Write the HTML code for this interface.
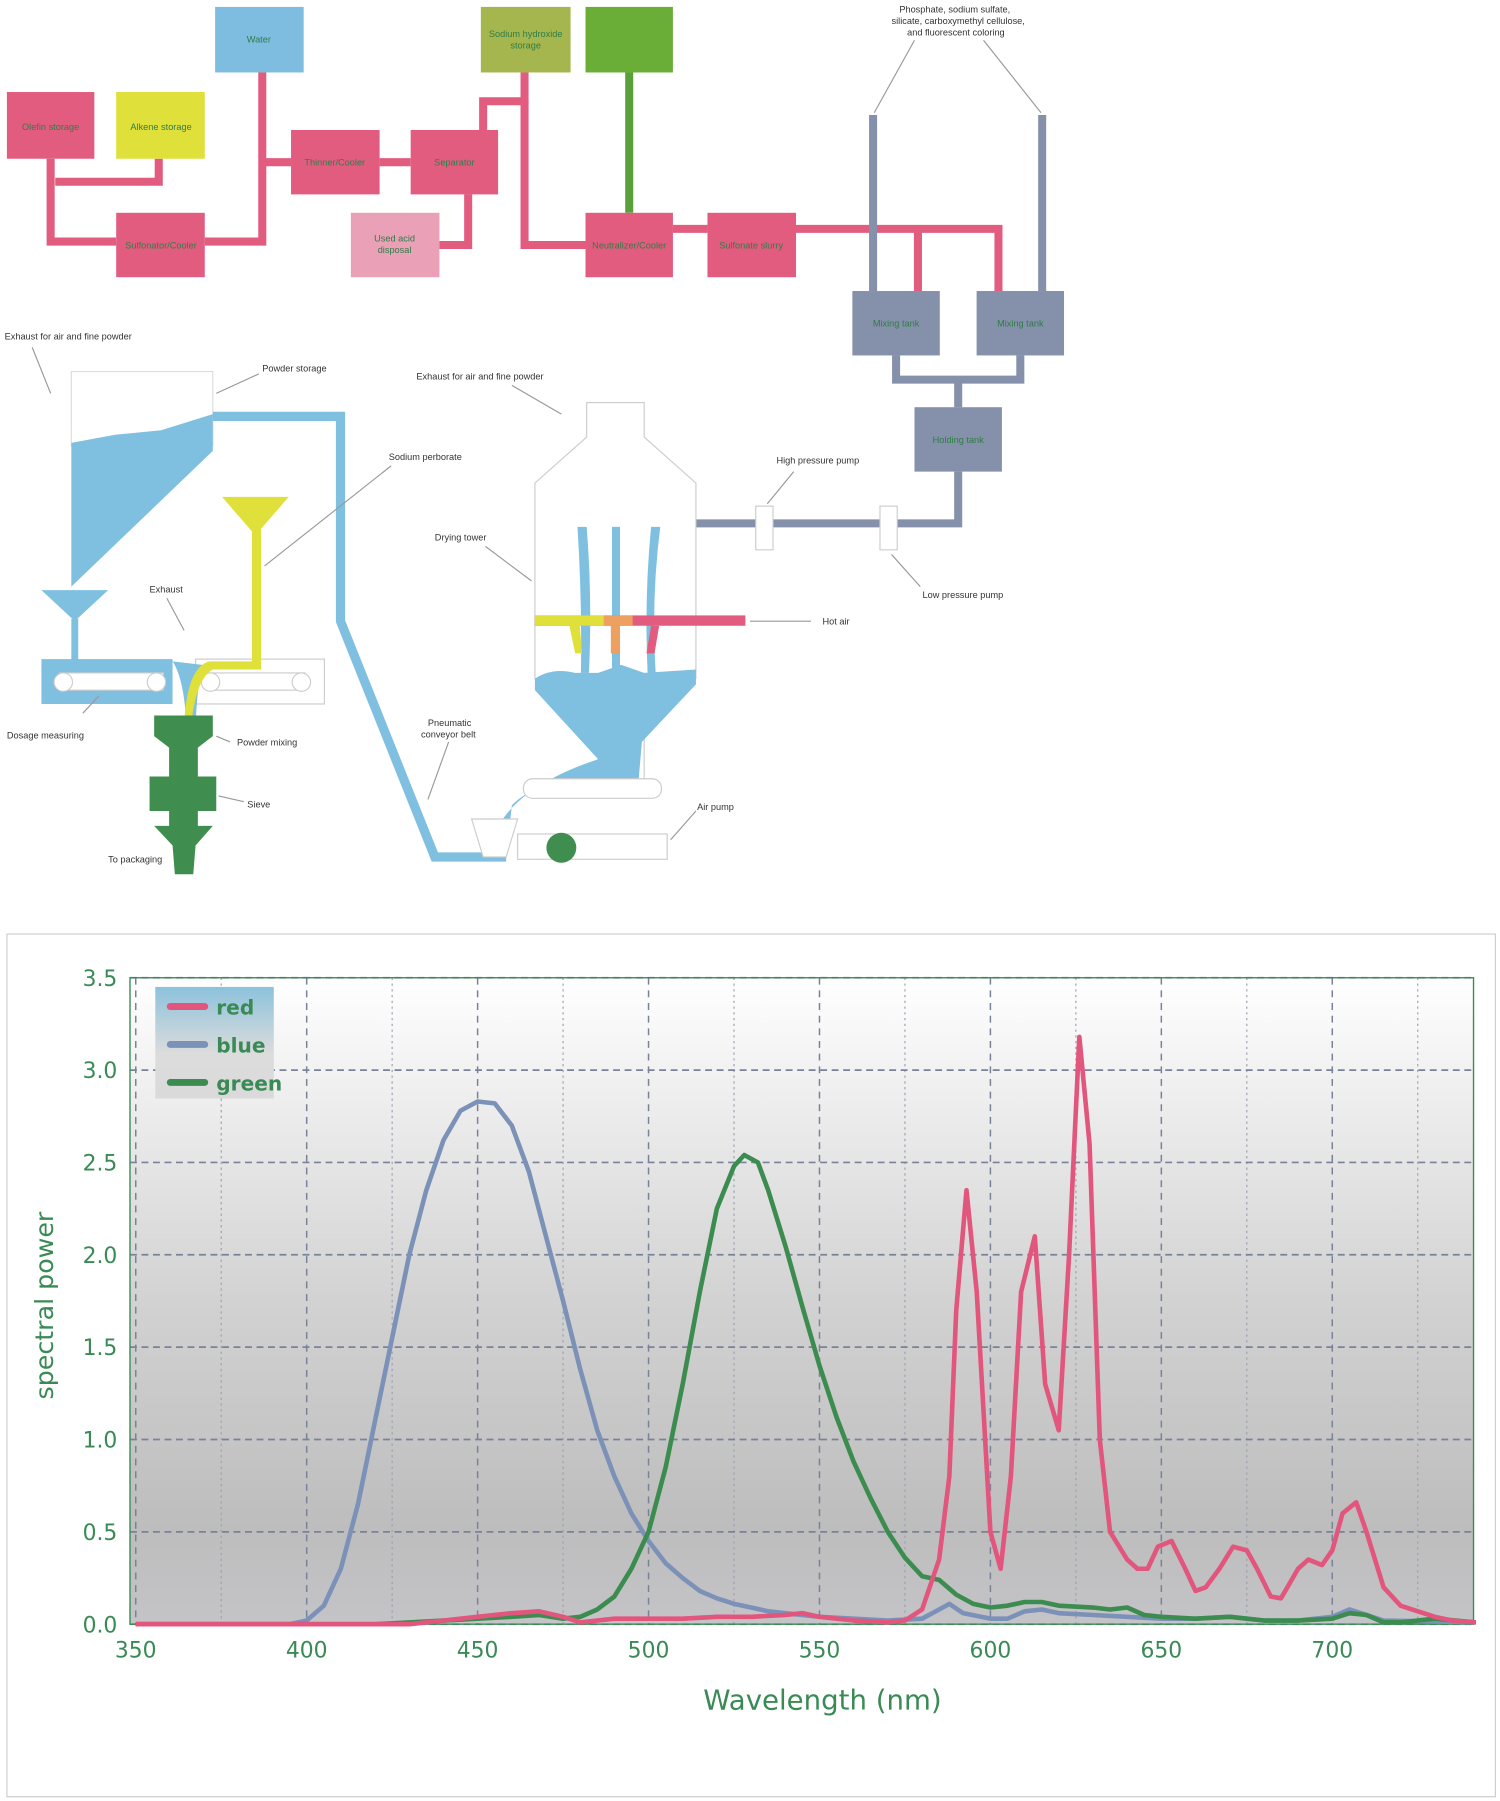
<!DOCTYPE html>
<html><head><meta charset="utf-8"><style>
html,body{margin:0;padding:0;background:#fff;}
svg{display:block;font-family:"DejaVu Sans","Liberation Sans",sans-serif;}
.lbl{font-family:"Liberation Sans",sans-serif;font-size:8px;fill:#333;}
.blbl{font-family:"Liberation Sans",sans-serif;font-size:8px;fill:#2e7d46;text-anchor:middle;}
</style></head><body>
<svg id="root" width="1500" height="1801" viewBox="0 0 1304 1565.7" xmlns="http://www.w3.org/2000/svg">
<defs>
<linearGradient id="bg" x1="0" y1="0" x2="0" y2="1">
<stop offset="0" stop-color="#ffffff"/><stop offset="0.12" stop-color="#f4f4f4"/><stop offset="0.5" stop-color="#d2d2d2"/><stop offset="0.85" stop-color="#bdbdbd"/><stop offset="1" stop-color="#c4c4c8"/>
</linearGradient>
<linearGradient id="lg" x1="0" y1="0" x2="0" y2="1">
<stop offset="0" stop-color="#8cc2dc"/><stop offset="0.6" stop-color="#dcdcdc"/><stop offset="1" stop-color="#dadada"/>
</linearGradient>
</defs>

<g id="diagram">
<g fill="none" stroke="#e25c80" stroke-width="7">
<polyline points="44,138 44,210 101,210"/>
<polyline points="48,158 138,158 138,138"/>
<polyline points="178,210 228,210 228,63"/>
<polyline points="228,141 253,141"/>
<polyline points="330,141 357,141"/>
<polyline points="420,113 420,88 456,88 456,63"/>
<polyline points="456,88 456,213 509,213"/>
<polyline points="407,169 407,213 382,213"/>
<polyline points="585,199 615,199"/>
<polyline points="692,199 868,199 868,253"/>
<polyline points="798,199 798,253"/>
</g>
<line x1="547" y1="63" x2="547" y2="185" stroke="#5aa03a" stroke-width="7"/>
<g fill="none" stroke="#8590aa" stroke-width="7">
<polyline points="759,100 759,253"/>
<polyline points="906,100 906,253"/>
<polyline points="779,309 779,330 887,330 887,309"/>
<polyline points="833,330 833,354"/>
<polyline points="833,410 833,455 465,455"/>
</g>
<g fill="none" stroke="#999" stroke-width="1">
<line x1="795" y1="35" x2="760" y2="98"/><line x1="855" y1="35" x2="905" y2="98"/>
</g>
<text class="lbl" x="830" y="11" text-anchor="middle">Phosphate, sodium sulfate,</text>
<text class="lbl" x="833" y="21" text-anchor="middle">silicate, carboxymethyl cellulose,</text>
<text class="lbl" x="831" y="31" text-anchor="middle">and fluorescent coloring</text>
<rect x="6" y="80" width="76" height="58" fill="#e25c80"/>
<text class="blbl" x="44" y="113">Olefin storage</text>
<rect x="101" y="80" width="77" height="58" fill="#dfe03a"/>
<text class="blbl" x="140" y="113">Alkene storage</text>
<rect x="187" y="6" width="77" height="57" fill="#7fbde0"/>
<text class="blbl" x="225" y="37">Water</text>
<rect x="418" y="6" width="78" height="57" fill="#a6b64e"/>
<text class="blbl" x="457" y="32">Sodium hydroxide</text><text class="blbl" x="457" y="42">storage</text>
<rect x="509" y="6" width="76" height="57" fill="#6aae38"/>
<rect x="101" y="185" width="77" height="56" fill="#e25c80"/>
<text class="blbl" x="140" y="216">Sulfonator/Cooler</text>
<rect x="253" y="113" width="77" height="56" fill="#e25c80"/>
<text class="blbl" x="291" y="144">Thinner/Cooler</text>
<rect x="357" y="113" width="76" height="56" fill="#e25c80"/>
<text class="blbl" x="395" y="144">Separator</text>
<rect x="305" y="185" width="77" height="56" fill="#eaa0b6"/>
<text class="blbl" x="343" y="210">Used acid</text><text class="blbl" x="343" y="220">disposal</text>
<rect x="509" y="185" width="76" height="56" fill="#e25c80"/>
<text class="blbl" x="547" y="216">Neutralizer/Cooler</text>
<rect x="615" y="185" width="77" height="56" fill="#e25c80"/>
<text class="blbl" x="653" y="216">Sulfonate slurry</text>
<rect x="741" y="253" width="76" height="56" fill="#8590aa"/>
<text class="blbl" x="779" y="284">Mixing tank</text>
<rect x="849" y="253" width="76" height="56" fill="#8590aa"/>
<text class="blbl" x="887" y="284">Mixing tank</text>
<rect x="795" y="354" width="76" height="56" fill="#8590aa"/>
<text class="blbl" x="833" y="385">Holding tank</text>
<rect x="657" y="440" width="15" height="38" fill="#fff" stroke="#ccc"/>
<rect x="765" y="440" width="15" height="38" fill="#fff" stroke="#ccc"/>
<text class="lbl" x="675" y="403">High pressure pump</text>
<text class="lbl" x="802" y="520">Low pressure pump</text>
<g stroke="#999" stroke-width="1"><line x1="690" y1="410" x2="667" y2="438"/><line x1="800" y1="510" x2="775" y2="482"/></g>
<rect x="62" y="323" width="123" height="65" fill="#fff" stroke="#ddd"/>
<polygon points="62,385 100,378 140,374 185,360 185,392 62,510" fill="#7fbfe0"/>
<polygon points="36,513 94,513 65,540" fill="#7fbfe0"/>
<rect x="62" y="538" width="6" height="36" fill="#7fbfe0"/>
<rect x="36" y="573" width="114" height="39" fill="#7fbfe0"/>
<rect x="170" y="573" width="112" height="39" fill="#fff" stroke="#ccc"/>
<g fill="#fff" stroke="#ccc"><rect x="52" y="585" width="90" height="15"/><circle cx="55" cy="593" r="8"/><circle cx="136" cy="593" r="8"/><rect x="180" y="585" width="85" height="15"/><circle cx="183" cy="593" r="8"/><circle cx="262" cy="593" r="8"/></g>
<path d="M150,575 Q160,590 162,630 L170,630 Q172,590 176,578 Z" fill="#7fbfe0"/>
<polyline points="185,362 296,362 296,540 378,745 440,745" fill="none" stroke="#7fbfe0" stroke-width="8"/>
<polygon points="193,432 251,432 225,462 219,462" fill="#dfe03a"/>
<path d="M219,460 L227,460 L227,582 L185,582 Q170,590 166,632 L160,632 Q162,580 182,575 L219,575 Z" fill="#dfe03a"/>
<path d="M148,622 L185,622 L185,640 L172,650 L172,675 L188,675 L188,705 L172,705 L172,718 L185,718 L170,735 L168,760 L152,760 L150,735 L134,718 L147,718 L147,705 L130,705 L130,675 L147,675 L147,650 L134,640 L134,622 Z" fill="#3f8e50"/>
<path d="M510,380 L510,350 L560,350 L560,380 L605,420 L605,590 L560,640 L560,680 L520,680 L520,640 L465,590 L465,420 Z" fill="#fff" stroke="#ccc"/>
<path d="M465,590 Q480,580 500,585 L520,585 L540,578 L560,585 L605,582 L605,595 L558,645 L555,680 L520,680 Q470,675 445,700 L440,745 L425,745 Q430,690 520,660 L465,600 Z" fill="#7fbfe0"/>
<g fill="#7fbfe0"><path d="M502,458 L510,458 Q515,520 512,585 L505,585 Q506,520 502,458 Z"/><rect x="532" y="458" width="7" height="127"/><path d="M566,458 L574,458 Q566,520 570,585 L563,585 Q560,520 566,458 Z"/></g>
<rect x="465" y="535" width="183" height="9" fill="#e25c80"/>
<rect x="465" y="535" width="60" height="9" fill="#dfe03a"/>
<rect x="525" y="535" width="25" height="9" fill="#eea060"/>
<polygon points="495,544 504,544 506,568 500,568" fill="#dfe03a"/>
<rect x="531" y="544" width="8" height="24" fill="#eea060"/>
<polygon points="566,544 573,544 569,568 562,568" fill="#e25c80"/>
<rect x="455" y="677" width="120" height="17" rx="8" fill="#fff" stroke="#ccc"/>
<rect x="450" y="725" width="130" height="22" fill="#fff" stroke="#ccc"/>
<polygon points="410,712 450,712 440,745 420,745" fill="#fff" stroke="#ccc"/>
<circle cx="488" cy="737" r="13" fill="#3f8e50"/>
<g stroke="#999" stroke-width="1" fill="none">
<line x1="28" y1="302" x2="44" y2="342"/><line x1="225" y1="325" x2="188" y2="342"/>
<line x1="445" y1="335" x2="488" y2="360"/><line x1="340" y1="405" x2="230" y2="492"/>
<line x1="422" y1="475" x2="462" y2="505"/><line x1="705" y1="540" x2="652" y2="540"/>
<line x1="145" y1="520" x2="160" y2="548"/><line x1="72" y1="620" x2="86" y2="605"/>
<line x1="200" y1="645" x2="188" y2="640"/><line x1="212" y1="697" x2="190" y2="692"/>
<line x1="390" y1="645" x2="372" y2="695"/><line x1="605" y1="705" x2="583" y2="730"/>
</g>
<text class="lbl" x="4" y="295">Exhaust for air and fine powder</text>
<text class="lbl" x="228" y="323">Powder storage</text>
<text class="lbl" x="362" y="330">Exhaust for air and fine powder</text>
<text class="lbl" x="338" y="400">Sodium perborate</text>
<text class="lbl" x="378" y="470">Drying tower</text>
<text class="lbl" x="715" y="543">Hot air</text>
<text class="lbl" x="130" y="515">Exhaust</text>
<text class="lbl" x="6" y="642">Dosage measuring</text>
<text class="lbl" x="206" y="648">Powder mixing</text>
<text class="lbl" x="215" y="702">Sieve</text>
<text class="lbl" x="94" y="750">To packaging</text>
<text class="lbl" x="372" y="631">Pneumatic</text>
<text class="lbl" x="366" y="641">conveyor belt</text>
<text class="lbl" x="606" y="704">Air pump</text>
</g>

<rect x="6" y="812" width="1294" height="750" fill="#fff" stroke="#ccc"/>
<g id="chart"></g>
</svg>
<script>
const xTicks=[350,400,450,500,550,600,650,700];
const yTicks=[0,0.5,1.0,1.5,2.0,2.5,3.0,3.5];
const seriesNames=["red","blue","green"];
const blueX=[350,395,400,405,410,415,420,425,430,435,440,445,450,455,460,465,470,475,480,485,490,495,500,505,510,515,520,525,530,535,540,545,550,560,570,580,585,588,592,600,605,610,615,620,630,640,650,660,670,680,690,700,705,710,715,742];
const blueY=[0,0,0.02,0.1,0.3,0.65,1.1,1.55,2.0,2.35,2.62,2.78,2.83,2.82,2.7,2.45,2.1,1.75,1.38,1.05,0.8,0.6,0.45,0.33,0.25,0.18,0.14,0.11,0.09,0.07,0.06,0.05,0.04,0.03,0.02,0.03,0.08,0.11,0.06,0.03,0.03,0.07,0.08,0.06,0.05,0.04,0.03,0.03,0.04,0.02,0.02,0.04,0.08,0.05,0.02,0.01];
const greenX=[350,420,430,440,450,460,468,475,480,485,490,495,500,505,510,515,520,525,528,532,535,540,545,550,555,560,565,570,575,580,585,590,595,600,605,610,615,620,630,635,640,645,650,660,670,680,690,700,705,710,715,720,730,742];
const greenY=[0,0,0.01,0.02,0.03,0.04,0.05,0.03,0.04,0.08,0.15,0.3,0.5,0.85,1.3,1.8,2.25,2.48,2.54,2.5,2.35,2.05,1.72,1.4,1.12,0.88,0.68,0.5,0.36,0.26,0.24,0.16,0.11,0.09,0.1,0.12,0.12,0.1,0.09,0.08,0.09,0.05,0.04,0.03,0.04,0.02,0.02,0.03,0.06,0.05,0.01,0.01,0.03,0.01];
const redX=[350,430,440,450,460,468,475,480,490,500,510,520,530,540,545,550,560,570,575,580,585,588,590,593,596,600,603,606,609,613,616,620,623,626,629,632,635,640,643,646,649,653,657,660,663,667,671,675,678,682,685,690,693,697,700,703,707,710,715,720,725,730,735,742];
const redY=[0,0,0.02,0.04,0.06,0.07,0.04,0.01,0.03,0.03,0.03,0.04,0.04,0.05,0.06,0.04,0.02,0.01,0.02,0.08,0.35,0.8,1.7,2.35,1.8,0.5,0.3,0.8,1.8,2.1,1.3,1.05,2.0,3.18,2.6,1.0,0.5,0.35,0.3,0.3,0.42,0.45,0.3,0.18,0.2,0.3,0.42,0.4,0.3,0.15,0.14,0.3,0.35,0.32,0.4,0.6,0.66,0.5,0.2,0.1,0.07,0.04,0.02,0.01];
const PL=113,PR=1281,PT=850,PB=1412;
function xs(v){return 118+(v-350)*148.6/50;}
function ys(v){return PB-v*(PB-PT)/3.5;}
const NS="http://www.w3.org/2000/svg";
const g=document.getElementById('chart');
function mk(t,a,parent){const e=document.createElementNS(NS,t);for(const k in a)e.setAttribute(k,a[k]);(parent||g).appendChild(e);return e;}
const bgr=mk('rect',{x:PL,y:PT,width:PR-PL,height:PB-PT,fill:'url(#bg)'});


for(let v=350;v<=740;v+=25){const major=v%50===0;const l=mk('line',{x1:xs(v),x2:xs(v),y1:PT,y2:PB,stroke:major?'#7a8299':'#9aa0b0','stroke-width':major?1.3:1,'stroke-dasharray':major?'6,5':'2,3'});

}
yTicks.forEach(v=>{const l=mk('line',{x1:PL,x2:PR,y1:ys(v),y2:ys(v),stroke:'#7a8299','stroke-width':1.5,'stroke-dasharray':'6,4'});


const t=mk('text',{x:102,y:ys(v)+7,'text-anchor':'end','font-size':19,fill:'#3a8a55'});t.textContent=v.toFixed(1);

});
xTicks.forEach(v=>{const t=mk('text',{x:xs(v),y:1441,'text-anchor':'middle','font-size':19,fill:'#3a8a55'});t.textContent=v;

});
const fr=mk('rect',{x:PL,y:PT,width:PR-PL,height:PB-PT,fill:'none',stroke:'#3a8a55','stroke-width':1.2});


function line(X,Y,col,name){const p=X.map((x,i)=>xs(x).toFixed(1)+','+ys(Y[i]).toFixed(1)).join(' ');
const pl=mk('polyline',{points:p,fill:'none',stroke:col,'stroke-width':4,'stroke-linejoin':'round'});

}
line(blueX,blueY,'#7b91b8','series-blue');
line(greenX,greenY,'#3c8c50','series-green');
line(redX,redY,'#e2557c','series-red');
const lgb=mk('rect',{x:135,y:858,width:103,height:97,fill:'url(#lg)'});


const lcols=['#e2557c','#7b91b8','#3c8c50'];
seriesNames.forEach((n,i)=>{const yy=875+i*33;
const l=mk('line',{x1:148,x2:178,y1:yy,y2:yy,stroke:lcols[i],'stroke-width':6,'stroke-linecap':'round'});


const t=mk('text',{x:188,y:yy+7,'font-size':17.5,'font-weight':'600',fill:'#3a8a55'});t.textContent=n;

});
const yt=mk('text',{x:0,y:0,transform:'translate(46,1135) rotate(-90)','text-anchor':'middle','font-size':22,fill:'#3a8a55'});yt.textContent='spectral power';


const xt=mk('text',{x:715,y:1486,'text-anchor':'middle','font-size':24,fill:'#3a8a55'});xt.textContent='Wavelength (nm)';


</script>
</body></html>
